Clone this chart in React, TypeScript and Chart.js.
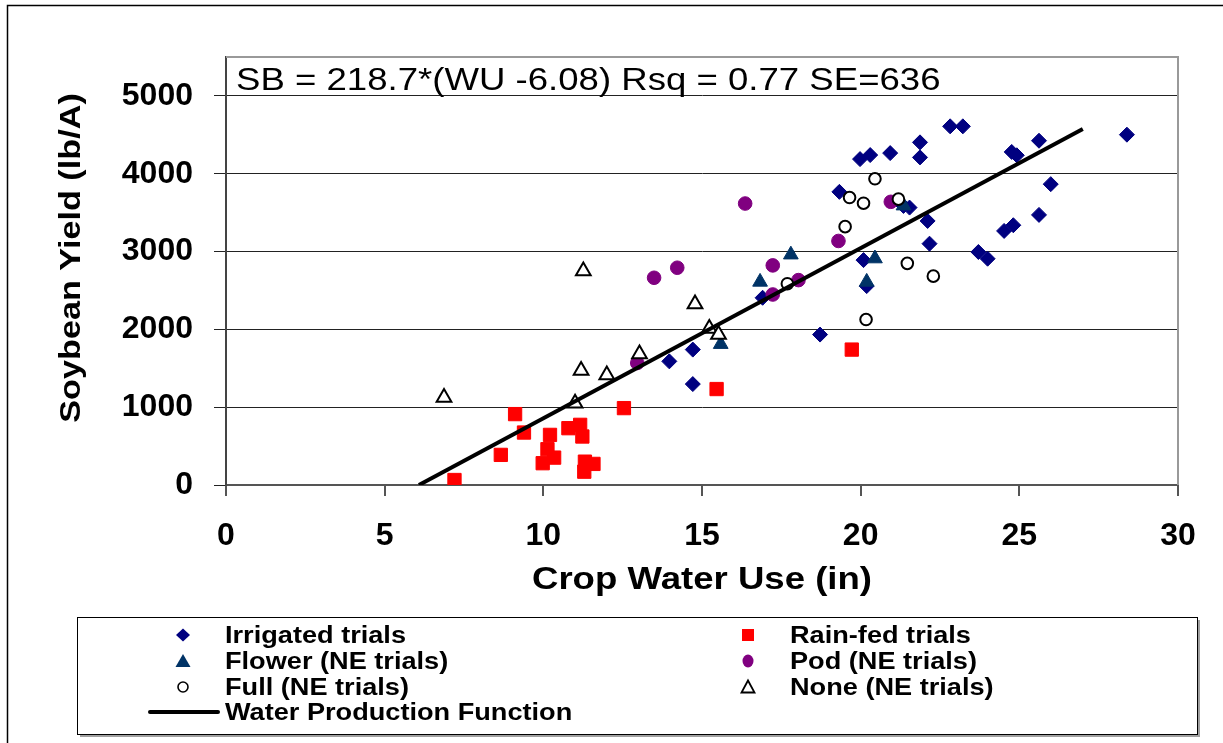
import React, { useEffect, useRef } from 'react';
import { Chart, registerables } from 'chart.js';

Chart.register(...registerables);

// ---------- data ----------
const xTicks = [0, 5, 10, 15, 20, 25, 30];
const yTicks = [0, 1000, 2000, 3000, 4000, 5000];

const seriesNames = [
  'Irrigated trials',
  'Rain-fed trials',
  'Flower (NE trials)',
  'Pod (NE trials)',
  'Full (NE trials)',
  'None (NE trials)',
  'Water Production Function',
];

const equationText = 'SB = 218.7*(WU -6.08) Rsq = 0.77 SE=636';
const xTitle = 'Crop Water Use (in)';
const yTitle = 'Soybean Yield (lb/A)';

const irrigatedX = [19.98, 20.3, 20.93, 21.87, 21.87, 22.82, 23.22, 24.76, 24.92, 25.62, 28.39, 25.99, 25.62, 24.81, 24.52, 23.71, 24.0, 22.11, 22.17, 21.35, 21.54, 20.09, 20.19, 19.33, 18.72, 16.91, 14.71, 13.97, 14.71];
const irrigatedY = [4188, 4240, 4265, 4403, 4210, 4609, 4609, 4280, 4237, 4424, 4502, 3866, 3471, 3338, 3265, 2994, 2908, 3393, 3101, 3586, 3565, 2890, 2556, 3767, 1933, 2406, 1740, 1589, 1297];

const rainfedX = [19.72, 15.46, 12.54, 9.11, 9.39, 10.21, 10.79, 11.16, 11.23, 10.13, 10.34, 9.98, 8.66, 11.31, 11.58, 11.29, 7.2];
const rainfedY = [1740, 1233, 988, 911, 674, 644, 730, 773, 623, 460, 352, 280, 387, 300, 271, 171, 64];

const flowerX = [17.8, 16.83, 20.45, 20.19, 15.59, 21.35];
const flowerY = [2960, 2610, 2910, 2610, 1810, 3590];

const podX = [16.36, 13.49, 14.22, 17.23, 18.04, 17.23, 19.3, 20.95, 12.96];
const podY = [3617, 2663, 2792, 2822, 2633, 2448, 3136, 3639, 1568];

const fullX = [20.45, 19.65, 20.09, 19.51, 21.19, 21.47, 22.29, 17.69, 20.17];
const fullY = [3935, 3694, 3621, 3320, 3673, 2848, 2684, 2586, 2126];

const noneX = [6.87, 11.0, 11.19, 12.0, 13.03, 11.26, 14.78, 15.23, 15.52];
const noneY = [1125, 1050, 1470, 1415, 1685, 2750, 2325, 2010, 1935];

const wpfX = [6.08, 27.0];
const wpfY = [0, 4575];

const zip = (xs: number[], ys: number[]) => xs.map((x, i) => ({ x, y: ys[i] }));

const FONT = '"Liberation Sans", Arial, sans-serif';
const SX = 1.18; // horizontal stretch of the original text

function stretchText(
  ctx: CanvasRenderingContext2D,
  text: string,
  x: number,
  y: number,
  font: string,
  align: CanvasTextAlign,
  baseline: CanvasTextBaseline,
  rotate = 0
) {
  ctx.save();
  ctx.translate(x, y);
  if (rotate) ctx.rotate(rotate);
  ctx.scale(SX, 1);
  ctx.font = font;
  ctx.textAlign = align;
  ctx.textBaseline = baseline;
  ctx.fillStyle = '#000';
  ctx.fillText(text, 0, 0);
  ctx.restore();
}

function legendMarker(ctx: CanvasRenderingContext2D, i: number, x: number, y: number) {
  ctx.save();
  ctx.beginPath();
  if (i === 0) {
    ctx.moveTo(x - 7, y);
    ctx.lineTo(x, y - 6.5);
    ctx.lineTo(x + 7, y);
    ctx.lineTo(x, y + 6.5);
    ctx.closePath();
    ctx.fillStyle = '#000080';
    ctx.fill();
  } else if (i === 1) {
    ctx.fillStyle = '#ff0000';
    ctx.fillRect(x - 6, y - 6, 12, 12);
  } else if (i === 2) {
    ctx.moveTo(x, y - 7);
    ctx.lineTo(x + 7.5, y + 6);
    ctx.lineTo(x - 7.5, y + 6);
    ctx.closePath();
    ctx.fillStyle = '#003366';
    ctx.fill();
  } else if (i === 3) {
    ctx.ellipse(x, y, 5.5, 6.5, 0, 0, Math.PI * 2);
    ctx.fillStyle = '#800080';
    ctx.fill();
  } else if (i === 4) {
    ctx.arc(x, y, 5, 0, Math.PI * 2);
    ctx.fillStyle = '#fff';
    ctx.fill();
    ctx.lineWidth = 1.6;
    ctx.strokeStyle = '#000';
    ctx.stroke();
  } else if (i === 5) {
    ctx.moveTo(x, y - 6.5);
    ctx.lineTo(x + 6.5, y + 5.5);
    ctx.lineTo(x - 6.5, y + 5.5);
    ctx.closePath();
    ctx.fillStyle = '#fff';
    ctx.fill();
    ctx.lineWidth = 1.8;
    ctx.strokeStyle = '#000';
    ctx.stroke();
  } else {
    ctx.moveTo(150, y);
    ctx.lineTo(218, y);
    ctx.lineWidth = 4;
    ctx.strokeStyle = '#000';
    ctx.lineCap = 'round';
    ctx.stroke();
  }
  ctx.restore();
}

const decorPlugin = {
  id: 'decor',
  beforeDraw(chart: any) {
    const ctx: CanvasRenderingContext2D = chart.ctx;
    ctx.save();
    ctx.fillStyle = '#fff';
    ctx.fillRect(0, 0, chart.width, chart.height);
    // outer frame (top and left)
    ctx.strokeStyle = '#000';
    ctx.lineWidth = 1.5;
    ctx.beginPath();
    ctx.moveTo(7.5, chart.height);
    ctx.lineTo(7.5, 5.5);
    ctx.lineTo(chart.width, 5.5);
    ctx.stroke();
    ctx.restore();
  },
  afterDraw(chart: any) {
    const ctx: CanvasRenderingContext2D = chart.ctx;
    const { left, top, right, bottom } = chart.chartArea;
    ctx.save();
    // plot-area top/right border
    ctx.strokeStyle = '#999';
    ctx.lineWidth = 2;
    ctx.beginPath();
    ctx.moveTo(left, top);
    ctx.lineTo(right, top);
    ctx.lineTo(right, bottom);
    ctx.stroke();
    ctx.restore();

    // equation
    stretchText(ctx, equationText, left + 10, top + 33, `31px ${FONT}`, 'left', 'alphabetic');
    // axis titles
    stretchText(ctx, xTitle, (left + right) / 2, 589, `bold 31px ${FONT}`, 'center', 'alphabetic');
    stretchText(ctx, yTitle, 80, 258, `bold 29px ${FONT}`, 'center', 'alphabetic', -Math.PI / 2);

    // legend box
    ctx.save();
    ctx.strokeStyle = '#a0a0a0';
    ctx.lineWidth = 2;
    ctx.beginPath();
    ctx.moveTo(80, 736);
    ctx.lineTo(1199, 736);
    ctx.lineTo(1199, 620);
    ctx.stroke();
    ctx.strokeStyle = '#000';
    ctx.lineWidth = 1;
    ctx.strokeRect(77.5, 617.5, 1120, 117);
    ctx.restore();

    const rowsY = [635, 661, 687, 712];
    const colMarker = [183, 748];
    const colText = [225, 790];
    seriesNames.forEach((name, i) => {
      const col = i < 6 ? i % 2 : 0;
      const row = i < 6 ? Math.floor(i / 2) : 3;
      const y = rowsY[row];
      legendMarker(ctx, i, colMarker[col], y);
      stretchText(ctx, name, colText[col], y + 8, `bold 23px ${FONT}`, 'left', 'alphabetic');
    });
  },
};

export default function App() {
  const ref = useRef<HTMLCanvasElement | null>(null);

  useEffect(() => {
    document.body.style.margin = '0';
    document.body.style.background = '#fff';
    const canvas = ref.current;
    if (!canvas) return;

    const tickFont = { family: FONT, size: 32, weight: 'bold' as const };

    const chart = new Chart(canvas, {
      type: 'scatter',
      data: {
        datasets: [
          {
            label: seriesNames[0],
            data: zip(irrigatedX, irrigatedY),
            pointStyle: 'rectRot',
            pointRadius: 7.5,
            backgroundColor: '#000080',
            borderColor: '#000080',
            borderWidth: 1,
            order: 6,
          },
          {
            label: seriesNames[1],
            data: zip(rainfedX, rainfedY),
            pointStyle: 'rect',
            pointRadius: 9.4,
            backgroundColor: '#ff0000',
            borderColor: '#ff0000',
            borderWidth: 1,
            order: 5,
          },
          {
            label: seriesNames[2],
            data: zip(flowerX, flowerY),
            pointStyle: 'triangle',
            pointRadius: 8.5,
            backgroundColor: '#003366',
            borderColor: '#003366',
            borderWidth: 1,
            order: 4,
          },
          {
            label: seriesNames[3],
            data: zip(podX, podY),
            pointStyle: 'circle',
            pointRadius: 6.8,
            backgroundColor: '#800080',
            borderColor: '#800080',
            borderWidth: 1,
            order: 3,
          },
          {
            label: seriesNames[4],
            data: zip(fullX, fullY),
            pointStyle: 'circle',
            pointRadius: 5.8,
            backgroundColor: '#ffffff',
            borderColor: '#000000',
            borderWidth: 2,
            order: 2,
          },
          {
            label: seriesNames[5],
            data: zip(noneX, noneY),
            pointStyle: 'triangle',
            pointRadius: 8.5,
            backgroundColor: '#ffffff',
            borderColor: '#000000',
            borderWidth: 2,
            order: 1,
          },
          {
            label: seriesNames[6],
            data: zip(wpfX, wpfY),
            showLine: true,
            pointRadius: 0,
            borderColor: '#000',
            borderWidth: 4,
            fill: false,
            order: 0,
          } as any,
        ],
      },
      options: {
        responsive: false,
        devicePixelRatio: 1,
        animation: false,
        layout: { padding: { left: 0, top: 57, right: 45, bottom: 138 } },
        plugins: {
          legend: { display: false },
          tooltip: { enabled: false },
          title: { display: false },
        },
        scales: {
          x: {
            type: 'linear',
            position: 'bottom',
            min: 0,
            max: 30,
            afterBuildTicks: (axis: any) => {
              axis.ticks = xTicks.map((v) => ({ value: v }));
            },
            afterFit: (axis: any) => {
              axis.height = 120;
            },
            grid: {
              drawOnChartArea: false,
              drawTicks: true,
              tickLength: 11,
              color: '#555',
              lineWidth: 2,
            },
            border: { display: true, color: '#555', width: 2 },
            ticks: {
              font: tickFont,
              color: '#000',
              padding: 21,
              maxRotation: 0,
              autoSkip: false,
              callback: (v: any) => String(v),
            },
          },
          y: {
            type: 'linear',
            min: 0,
            max: 5500,
            afterBuildTicks: (axis: any) => {
              axis.ticks = yTicks.map((v) => ({ value: v }));
            },
            afterFit: (axis: any) => {
              axis.width = 226;
            },
            grid: {
              drawTicks: true,
              tickLength: 12,
              color: '#222',
              lineWidth: 1,
            },
            border: { display: true, color: '#444', width: 2 },
            ticks: {
              font: tickFont,
              color: '#000',
              padding: 21,
              autoSkip: false,
              callback: (v: any) => String(v),
            },
          },
        },
      },
      plugins: [decorPlugin],
    });

    return () => chart.destroy();
  }, []);

  return (
    <div style={{ width: 1223, height: 743, background: '#fff' }}>
      <canvas ref={ref} width={1223} height={743} style={{ display: 'block' }} />
    </div>
  );
}
